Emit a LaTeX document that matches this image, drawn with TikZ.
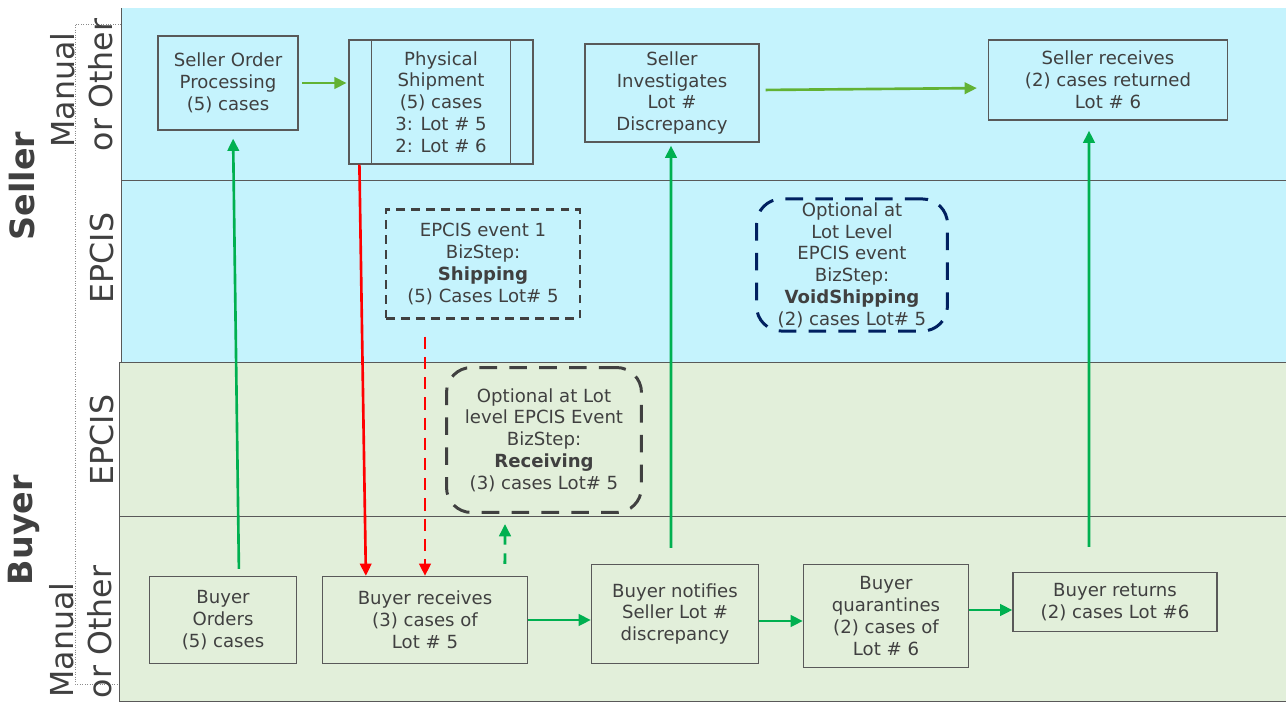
\documentclass[tikz,border=0pt]{standalone}
\usepackage{fontspec}
\setmainfont{DejaVu Sans}
\usetikzlibrary{arrows.meta}

\definecolor{sellerblue}{RGB}{197,243,253}
\definecolor{buyergreen}{RGB}{226,239,218}
\definecolor{linegray}{RGB}{89,89,89}
\definecolor{txtgray}{RGB}{64,64,64}
\definecolor{arrowgreen}{RGB}{0,176,80}
\definecolor{lightgreen}{RGB}{98,178,52}
\definecolor{navy}{RGB}{0,32,96}

\begin{document}
\begin{tikzpicture}[x=0.02cm,y=-0.02cm,
		box/.style={draw=linegray, line width=0.7pt, text=txtgray, align=center, inner sep=2pt,
			font=\fontsize{10.3}{12.4}\selectfont},
		evbox/.style={box, draw=txtgray, line width=1.4pt, dash pattern=on 5pt off 3.5pt},
		optbox/.style={box, draw=txtgray, line width=1.7pt, rounded corners=0.5cm, dash pattern=on 10pt off 7pt},
		lane/.style={text=txtgray, rotate=90, font=\fontsize{18}{20}\selectfont},
		side/.style={text=txtgray, rotate=90, font=\fontsize{19}{21}\selectfont\bfseries},
		garrow/.style={draw=arrowgreen, line width=1.5pt, -{Triangle[length=7pt,width=6.5pt]}},
		larrow/.style={draw=lightgreen, line width=1.5pt, -{Triangle[length=7pt,width=6.5pt]}},
		rarrow/.style={draw=red, line width=1.5pt, -{Triangle[length=7pt,width=6.5pt]}}]
				\useasboundingbox (0,0) rectangle (1286,703);
				% bands
				\fill[sellerblue] (121,8) rectangle (1286,362);
				\fill[buyergreen] (119,362) rectangle (1286,701);
				\draw[linegray] (121,8) -- (121,362);
				\draw[linegray] (121,180) -- (1286,180);
				\draw[linegray] (119,362) -- (1286,362) (119,362) -- (119,701) -- (1286,701);
				\draw[linegray] (119,516) -- (1286,516);
				\draw[linegray!70, densely dotted] (121,24) -- (75,24) -- (75,684) -- (119,684);
				% lane labels
				\node[side] (seller) at (22,186) {Seller};
				\node[side] (buyer) at (24,530) {Buyer};
				\node[lane] (sman) at (63,90) {Manual};
				\node[lane] (soth) at (101,85) {or Other};
				\node[lane] (sepc) at (102,258) {EPCIS};
				\node[lane] (bepc) at (102,440) {EPCIS};
				\node[lane] (bman) at (62,640) {Manual};
				\node[lane] (both) at (100,632) {or Other};
				% seller row
				\node[box, minimum width=2.8cm, minimum height=1.88cm] (sop) at (228,83) {Seller Order\\Processing\\(5) cases};
				\node[box, minimum width=3.68cm, minimum height=2.48cm] (ship) at (441,102) {Physical\\Shipment\\(5) cases\\3: Lot \# 5\\2: Lot \# 6};
				\draw[linegray, line width=0.7pt] ([xshift=0.46cm]ship.north west) -- ([xshift=0.46cm]ship.south west);
				\draw[linegray, line width=0.7pt] ([xshift=-0.46cm]ship.north east) -- ([xshift=-0.46cm]ship.south east);
				\node[box, minimum width=3.48cm, minimum height=1.96cm] (inv) at (672,93) {Seller\\Investigates\\Lot \#\\Discrepancy};
				\node[box, minimum width=4.78cm, minimum height=1.6cm] (srec) at (1108,80) {Seller receives\\(2) cases returned\\Lot \# 6};
				% EPCIS events
				\node[evbox, minimum width=3.88cm, minimum height=2.18cm] (ev1) at (483,264) {EPCIS event 1\\BizStep:\\\textbf{Shipping}\\(5) Cases Lot\# 5};
				\node[optbox, draw=navy, minimum width=3.82cm, minimum height=2.62cm] (void) at (852,265) {Optional at\\Lot Level\\EPCIS event\\BizStep:\\\textbf{VoidShipping}\\(2) cases Lot\# 5};
				\node[optbox, minimum width=3.9cm, minimum height=2.9cm] (recv) at (544,440) {Optional at Lot\\level EPCIS Event\\BizStep:\\\textbf{Receiving}\\(3) cases Lot\# 5};
				% buyer row
				\node[box, minimum width=2.94cm, minimum height=1.74cm] (bord) at (223,620) {Buyer\\Orders\\(5) cases};
				\node[box, minimum width=4.1cm, minimum height=1.74cm] (brec) at (425,620) {Buyer receives\\(3) cases of\\Lot \# 5};
				\node[box, minimum width=3.34cm, minimum height=1.98cm] (bnot) at (675,614) {Buyer notifies\\Seller Lot \#\\discrepancy};
				\node[box, minimum width=3.3cm, minimum height=2.06cm] (bquar) at (886,616) {Buyer\\quarantines\\(2) cases of\\Lot \# 6};
				\node[box, minimum width=4.08cm, minimum height=1.18cm] (bret) at (1115,602) {Buyer returns\\(2) cases Lot \#6};
				% arrows
				\draw[garrow, shorten <=0.14cm, shorten >=0.16cm] ([xshift=0.32cm]bord.north) -- ([xshift=0.1cm]sop.south);
				\draw[larrow, shorten <=2pt, shorten >=1pt] (sop.east) -- (sop.east -| ship.west);
				\draw[rarrow] ([xshift=0.22cm]ship.south west) -- ([xshift=0.88cm]brec.north west);
				\draw[rarrow, line width=1.7pt, dash pattern=on 7pt off 4.5pt, shorten <=0.34cm] (ev1.south -| brec.north) -- (brec.north);
				\draw[garrow, line width=1.7pt, dash pattern=on 6pt off 5pt, shorten <=0.24cm, shorten >=0.2cm] ([xshift=1.6cm]brec.north) -- ([xshift=-0.78cm]recv.south);
				\draw[garrow] (brec.east) -- (brec.east -| bnot.west);
				\draw[garrow] ([yshift=-0.14cm]bnot.east) -- ([yshift=-0.14cm]bnot.east -| bquar.west);
				\draw[garrow] ([yshift=0.12cm]bquar.east) -- ([yshift=0.12cm]bquar.east -| bret.west);
				\draw[garrow, shorten <=0.32cm, shorten >=0.06cm] ([xshift=-0.08cm]bnot.north) -- ([xshift=-0.02cm]inv.south);
				\draw[larrow, shorten <=0.12cm, shorten >=0.22cm] ([yshift=0.06cm]inv.east) -- ([yshift=-0.16cm]srec.west);
				\draw[garrow, shorten <=0.5cm, shorten >=0.2cm] ([xshift=-0.52cm]bret.north) -- ([xshift=-0.38cm]srec.south);
			\end{tikzpicture}
\end{document}
